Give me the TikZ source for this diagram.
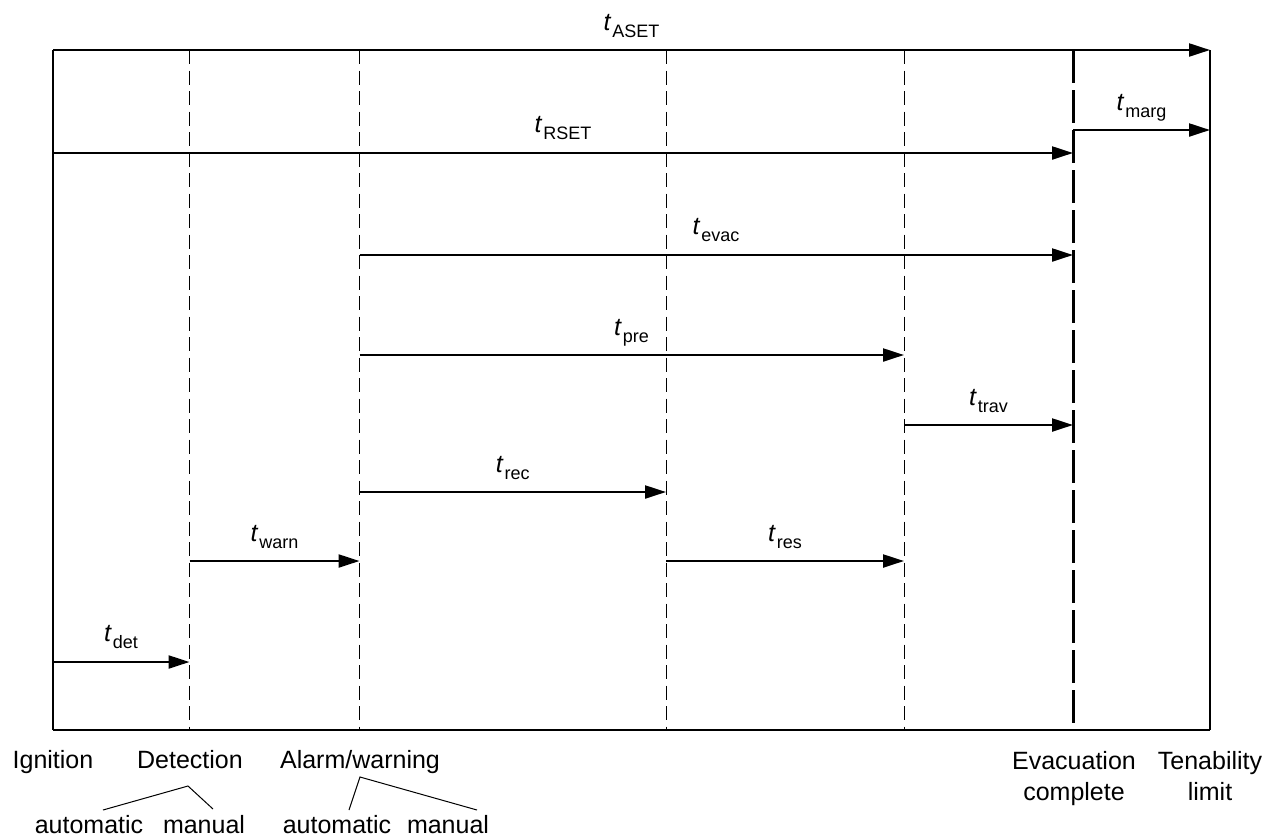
\documentclass[tikz,border=0pt]{standalone}
\usepackage{fontspec}
\setmainfont{Liberation Sans}
\usetikzlibrary{arrows.meta}
\newcommand\tsubx[1]{\textit{t}\kern1pt\raisebox{-7pt}{\fontsize{18}{18}\selectfont #1}}
\begin{document}
\begin{tikzpicture}[x=1pt,y=-1pt,
  arr/.style={line width=2.2pt, -{Triangle[length=21pt,width=13pt]}},
  tl/.style={anchor=base, inner sep=0pt, font=\fontsize{25}{25}\selectfont},
  ev/.style={anchor=base, inner sep=0pt, font=\fontsize{25}{25}\selectfont},
  thindash/.style={line width=1pt, dash pattern=on 14pt off 6.5pt},
  thickdash/.style={line width=3pt, dash pattern=on 33pt off 7pt},
  frameline/.style={line width=1.3pt},
  baseline2/.style={line width=2.2pt},
  fork/.style={line width=1pt}]
\useasboundingbox (0,0) rectangle (1281,836);

% time positions (top / bottom of frame)
\coordinate (ignT) at (53,50);   \coordinate (ignB) at (53,730);
\coordinate (detT) at (189.5,50); \coordinate (detB) at (189.5,730);
\coordinate (alaT) at (359.5,50); \coordinate (alaB) at (359.5,730);
\coordinate (recT) at (666,50);  \coordinate (recB) at (666,730);
\coordinate (resT) at (904,50);  \coordinate (resB) at (904,730);
\coordinate (evaT) at (1073,50); \coordinate (evaB) at (1073,730);
\coordinate (tenT) at (1210,50); \coordinate (tenB) at (1210,730);

% frame and phase lines
\draw[frameline] (ignT) -- (ignB);
\draw[frameline] (tenT) -- (tenB);
\draw[baseline2] (ignB) -- (tenB);
\draw[thindash] (detT) -- (detB);
\draw[thindash] (alaT) -- (alaB);
\draw[thindash] (recT) -- (recB);
\draw[thindash] (resT) -- (resB);
\draw[thickdash] (evaT) -- (evaB);

% arrow end points
\coordinate (aset0) at (53,50);    \coordinate (aset1) at (1210,50);
\coordinate (rset0) at (53,153);   \coordinate (rset1) at (1073,153);
\coordinate (marg0) at (1073,130); \coordinate (marg1) at (1210,130);
\coordinate (evac0) at (359.5,255); \coordinate (evac1) at (1073,255);
\coordinate (pre0) at (359.5,355);  \coordinate (pre1) at (904,355);
\coordinate (trav0) at (904,425);   \coordinate (trav1) at (1073,425);
\coordinate (rec0) at (359.5,492);  \coordinate (rec1) at (666,492);
\coordinate (warn0) at (189.5,561); \coordinate (warn1) at (359.5,561);
\coordinate (res0) at (666,561);    \coordinate (res1) at (904,561);
\coordinate (det0) at (53,662);     \coordinate (det1) at (189.5,662);

\draw[arr] (aset0) -- (aset1);
\draw[arr] (rset0) -- (rset1);
\draw[arr] (marg0) -- (marg1);
\draw[arr] (evac0) -- (evac1);
\draw[arr] (pre0) -- (pre1);
\draw[arr] (trav0) -- (trav1);
\draw[arr] (rec0) -- (rec1);
\draw[arr] (warn0) -- (warn1);
\draw[arr] (res0) -- (res1);
\draw[arr] (det0) -- (det1);

% arrow labels
\node[tl] (lASET) at (631.5,30) {\tsubx{ASET}};
\node[tl] (lRSET) at (563,132) {\tsubx{RSET}};
\node[tl] (lmarg) at (1141.5,110) {\tsubx{marg}};
\node[tl] (levac) at (716,234) {\tsubx{evac}};
\node[tl] (lpre) at (631.5,335) {\tsubx{pre}};
\node[tl] (ltrav) at (988.5,405) {\tsubx{trav}};
\node[tl] (lrec) at (512.75,472) {\tsubx{rec}};
\node[tl] (lwarn) at (274.5,541) {\tsubx{warn}};
\node[tl] (lres) at (785,541) {\tsubx{res}};
\node[tl] (ldet) at (121,641) {\tsubx{det}};

% event labels
\node[ev] (ign) at (53,768) {Ignition};
\node[ev] (detn) at (190,768) {Detection};
\node[ev] (alarm) at (360,768) {Alarm/warning};
\node[ev] (evac) at (1074,769) {Evacuation};
\node[ev] (evac2) at (1074,800) {complete};
\node[ev] (ten) at (1210,769) {Tenability};
\node[ev] (ten2) at (1210,800) {limit};
\node[ev] (dauto) at (89,833) {automatic};
\node[ev] (dman) at (204,833) {manual};
\node[ev] (aauto) at (337,833) {automatic};
\node[ev] (aman) at (448,833) {manual};

% forks
\coordinate (dapex) at (188,786);
\coordinate (dautoT) at (103,810);
\coordinate (dmanT) at (213,809);
\coordinate (aapex) at (360,777);
\coordinate (aautoT) at (349,810);
\coordinate (amanT) at (477,810);
\draw[fork] (dautoT) -- (dapex) -- (dmanT);
\draw[fork] (aautoT) -- (aapex) -- (amanT);
\end{tikzpicture}
\end{document}
